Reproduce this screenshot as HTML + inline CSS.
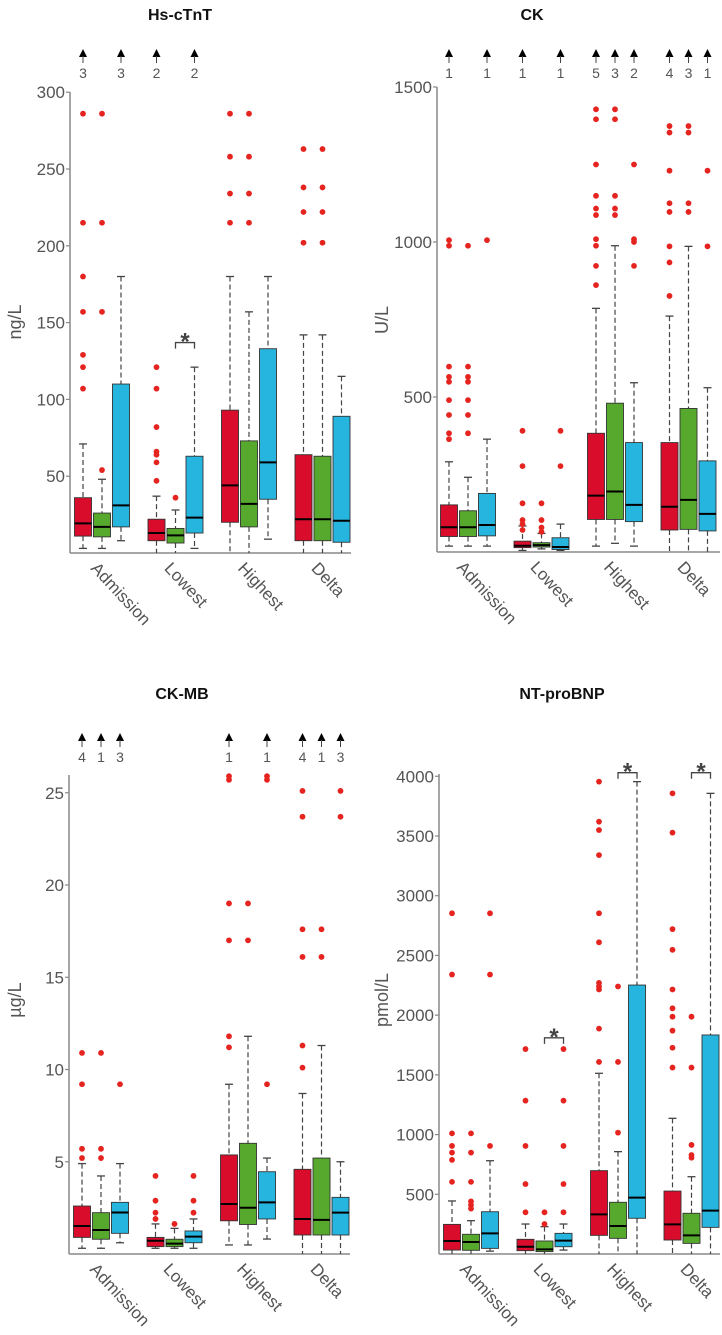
<!DOCTYPE html>
<html><head><meta charset="utf-8">
<style>
html,body{margin:0;padding:0;background:#fff;}
svg{display:block;font-family:"Liberation Sans","DejaVu Sans",sans-serif;}
</style></head>
<body>
<svg id="chart" width="722" height="1335" viewBox="0 0 722 1335" xmlns="http://www.w3.org/2000/svg"></svg>
<script>
// ---------- data ----------
const categories = ["Admission","Lowest","Highest","Delta"];
// box order: [cat0 red, cat0 green, cat0 blue, cat1 red, ...]
const tntQ1  = [11,10.5,17, 8,6.5,13, 20,17,35, 8,8,7];
const tntMed = [19.3,17,31, 13,11.5,23, 44,32,59, 22,22,21];
const tntQ3  = [36,26,110, 22,16,63, 93,73,133, 64,63,89];
const tntLo  = [3,3,8, 0,0,3, 0,0,9, 0,0,0];
const tntHi  = [71,48,180, 37,28,121, 180,157,180, 142,142,115];
const tntOut = [[286,215,180,157,129,121,107],[286,215,157,54],[],[121,107,82,66,64,59,47],[36],[],[286,258,234,215],[286,258,234,215],[],[263,238,222,202],[263,238,222,202],[]];
const tntArrow = [3,0,3, 2,0,2, 0,0,0, 0,0,0];
const tntTicks = [50,100,150,200,250,300];
const tntStars = [[4,5,137]];

const ckQ1  = [50,50,52, 14,16,8, 105,105,98, 71,73,68];
const ckMed = [80,80,87, 20,22,16, 182,195,152, 146,168,123];
const ckQ3  = [152,133,189, 35,30,46, 383,480,353, 353,463,294];
const ckLo  = [19,19,19, 5,10,5, 19,28,19, 0,0,0];
const ckHi  = [291,241,364, 84,60,90, 786,988,546, 761,986,530];
const ckOut = [[1006,988,598,565,549,490,442,383,364],[988,598,565,549,490,442,383],[1006],[391,277,157,103,90,71],[157,103,79,65],[391,277],[1428,1396,1250,1149,1108,1087,1009,988,923,861],[1428,1396,1149,1108,1087],[1250,1009,1000,923],[1374,1353,1230,1125,1097,986,934,826],[1374,1353,1125,1097],[1230,986]];
const ckArrow = [1,0,1, 1,0,1, 5,3,2, 4,3,1];
const ckTicks = [500,1000,1500];
const ckStars = [];

const mbQ1  = [0.9,0.8,1.12, 0.4,0.4,0.61, 1.8,1.6,1.9, 1.03,1.03,1.03];
const mbMed = [1.52,1.3,2.25, 0.72,0.56,0.94, 2.71,2.51,2.8, 1.9,1.85,2.24];
const mbQ3  = [2.6,2.24,2.8, 0.9,0.8,1.25, 5.37,6.0,4.46, 4.59,5.2,3.07];
const mbLo  = [0.31,0.31,0.61, 0.31,0.31,0.31, 0.49,0.49,0.81, 0,0,0];
const mbHi  = [4.9,4.23,4.9, 1.63,1.39,1.9, 9.2,11.8,5.2, 8.7,11.3,5.0];
const mbOut = [[10.9,9.2,5.7,5.2],[10.9,5.7,5.2],[9.2],[4.23,2.89,2.24,1.9],[1.63],[4.23,2.89,2.24],[25.9,25.7,19.0,17.0,11.8,11.2],[19.0,17.0],[25.9,25.7,9.2],[25.1,23.7,17.6,16.1,11.3,10.1],[17.6,16.1],[25.1,23.7]];
const mbArrow = [4,1,3, 0,0,0, 1,0,1, 4,1,3];
const mbTicks = [5,10,15,20,25];
const mbStars = [];

const bnpQ1  = [33,31,47, 28,20,61, 156,131,299, 117,89,223];
const bnpMed = [109,100,173, 61,39,112, 332,234,472, 248,156,363];
const bnpQ3  = [248,165,354, 123,109,173, 698,433,2252, 527,341,1834];
const bnpLo  = [0,0,24, 0,0,33, 0,0,0, 0,0,0];
const bnpHi  = [444,279,781, 251,229,251, 1513,857,3955, 1136,647,3857];
const bnpOut = [[2853,2340,1010,905,849,788,604],[1010,849,604,440,410,380],[2853,2340,905],[1716,1284,905,586,349],[349,251],[1716,1284,905,586,349],[3955,3620,3550,3340,2853,2610,2270,2240,2215,1887,1608],[2240,1608,1016],[],[3857,3528,2720,2547,2215,2057,1987,1870,1727,1561],[1987,1561,913,829,806],[]];
const bnpArrow = [0,0,0, 0,0,0, 0,0,0, 0,0,0];
const bnpTicks = [500,1000,1500,2000,2500,3000,3500,4000];
const bnpStars = [[4,5,1810],[7,8,4030],[10,11,4030]];

const colors = ["#d90c2b","#56a92c","#26b5de"];
const NS = "http://www.w3.org/2000/svg";
const svg = document.getElementById("chart");

function mk(tag, attrs, parent){
  const e = document.createElementNS(NS, tag);
  for (const k in attrs) e.setAttribute(k, attrs[k]);
  (parent||svg).appendChild(e);
  return e;
}

function drawPanel(p){
  const g = mk("g", {});
  
  
  const y = v => p.y0 - v * p.k;
  const xb = i => p.gx0 + Math.floor(i/3) * 73.5 + ((i%3) - 1) * 19;
  const t = mk("text", {x:p.titleX, y:p.titleY, "text-anchor":"middle", "font-size":"16", "font-weight":"bold", fill:"#111"}, g);
  t.textContent = p.title;
  
  
  const yl = mk("text", {x:0, y:0, "text-anchor":"middle", "font-size":"18", fill:"#555", transform:`translate(${p.ylx},${p.yly}) rotate(-90)`}, g);
  yl.textContent = p.ylabel;
  
  
  const ax = mk("line", {x1:p.ax, x2:p.ax, y1:p.top, y2:p.y0, stroke:"#888", "stroke-width":"1.5"}, g);
  
  
  const bx = mk("line", {x1:p.ax, x2:p.right, y1:p.y0, y2:p.y0, stroke:"#888", "stroke-width":"1.5"}, g);
  
  
  p.ticks.forEach(v => {
    mk("line", {x1:p.ax-4, x2:p.ax, y1:y(v), y2:y(v), stroke:"#888", "stroke-width":"1.2"}, g);
    const tl = mk("text", {x:p.ax-5, y:y(v)+6, "text-anchor":"end", "font-size":"17", fill:"#555"}, g);
    tl.textContent = v;
    
    
  });
  categories.forEach((c, ci) => {
    const cx = xb(ci*3+1);
    const xl = mk("text", {x:0, y:0, "font-size":"17", fill:"#555", transform:`translate(${cx-12},${p.y0+16}) rotate(47)`}, g);
    xl.textContent = c;
    
    
  });
  for (let i = 0; i < 12; i++) {
    const x = xb(i), col = colors[i%3];
    const bg = mk("g", {}, g);
    
    
    const wcol = "#444";
    mk("line", {x1:x, x2:x, y1:y(p.hi[i]), y2:y(p.q3[i]), stroke:wcol, "stroke-width":"1.2", "stroke-dasharray":"5,3"}, bg);
    mk("line", {x1:x, x2:x, y1:y(p.q1[i]), y2:y(p.lo[i]), stroke:wcol, "stroke-width":"1.2", "stroke-dasharray":"5,3"}, bg);
    mk("line", {x1:x-4, x2:x+4, y1:y(p.hi[i]), y2:y(p.hi[i]), stroke:wcol, "stroke-width":"1.3"}, bg);
    if (p.lo[i] > 0) mk("line", {x1:x-4, x2:x+4, y1:y(p.lo[i]), y2:y(p.lo[i]), stroke:wcol, "stroke-width":"1.3"}, bg);
    mk("rect", {x:x-8.5, y:y(p.q3[i]), width:17, height:Math.max(1, y(p.q1[i])-y(p.q3[i])), fill:col, stroke:"#333", "stroke-width":"0.9"}, bg);
    mk("line", {x1:x-8.5, x2:x+8.5, y1:y(p.med[i]), y2:y(p.med[i]), stroke:"#000", "stroke-width":"2"}, bg);
    p.out[i].forEach(v => {
      const d = mk("circle", {cx:x, cy:y(v), r:"2.9", fill:"#e52420"}, bg);
      
      
    });
    if (p.arrow[i] > 0) {
      const ag = mk("g", {}, g);
      
      
      mk("polygon", {points:`${x-4},${p.ay+8} ${x+4},${p.ay+8} ${x},${p.ay}`, fill:"#000"}, ag);
      mk("line", {x1:x, x2:x, y1:p.ay+7, y2:p.ay+14, stroke:"#444", "stroke-width":"1"}, ag);
      const n = mk("text", {x:x, y:p.ay+29, "text-anchor":"middle", "font-size":"14", fill:"#555"}, ag);
      n.textContent = p.arrow[i];
    }
  }
  p.stars.forEach(s => {
    const x1 = xb(s[0]), x2 = xb(s[1]), yy = y(s[2]);
    const sg = mk("g", {}, g);
    
    
    mk("path", {d:`M${x1},${yy+6} V${yy} H${x2} V${yy+6}`, fill:"none", stroke:"#444", "stroke-width":"1.3"}, sg);
    const st = mk("text", {x:(x1+x2)/2, y:yy+7, "text-anchor":"middle", "font-size":"24", "font-weight":"bold", fill:"#444"}, sg);
    st.textContent = "*";
  });
}

drawPanel({name:"hs-ctnt", title:"Hs-cTnT", titleX:180, titleY:20, ylabel:"ng/L", ylx:21, yly:322,
  ax:70, top:92, y0:553, k:1.536, right:351, gx0:102, ay:49, ticks:tntTicks,
  q1:tntQ1, med:tntMed, q3:tntQ3, lo:tntLo, hi:tntHi, out:tntOut, arrow:tntArrow, stars:tntStars});
drawPanel({name:"ck", title:"CK", titleX:532, titleY:20, ylabel:"U/L", ylx:388, yly:320,
  ax:437, top:87, y0:552, k:0.31, right:720, gx0:468, ay:49, ticks:ckTicks,
  q1:ckQ1, med:ckMed, q3:ckQ3, lo:ckLo, hi:ckHi, out:ckOut, arrow:ckArrow, stars:ckStars});
drawPanel({name:"ck-mb", title:"CK-MB", titleX:182, titleY:699, ylabel:"µg/L", ylx:21, yly:1000,
  ax:69, top:775, y0:1254, k:18.45, right:350, gx0:101, ay:733, ticks:mbTicks,
  q1:mbQ1, med:mbMed, q3:mbQ3, lo:mbLo, hi:mbHi, out:mbOut, arrow:mbArrow, stars:mbStars});
drawPanel({name:"nt-probnp", title:"NT-proBNP", titleX:562, titleY:699, ylabel:"pmol/L", ylx:388, yly:1000,
  ax:439, top:774, y0:1254, k:0.11943, right:720, gx0:471, ay:733, ticks:bnpTicks,
  q1:bnpQ1, med:bnpMed, q3:bnpQ3, lo:bnpLo, hi:bnpHi, out:bnpOut, arrow:bnpArrow, stars:bnpStars});
</script>
</body></html>
